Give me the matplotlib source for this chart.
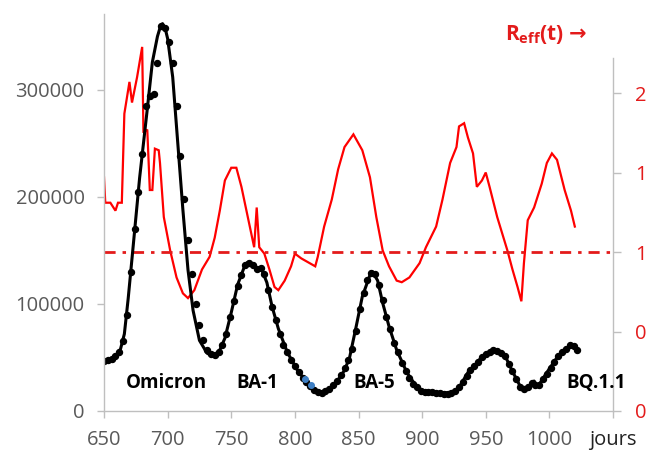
import matplotlib
matplotlib.use('Agg')
import matplotlib.pyplot as plt

plt.rcParams['font.family'] = ['Open Sans', 'DejaVu Sans']
plt.rcParams['mathtext.fontset'] = 'custom'
plt.rcParams['mathtext.bf'] = 'Open Sans:bold'
plt.rcParams['mathtext.rm'] = 'Open Sans'
plt.rcParams['lines.scale_dashes'] = False

# ---------------- data ----------------
# smoothed daily cases (left axis)
line_days = [650, 655, 660, 663, 666, 669, 673, 678, 684, 688, 692, 694, 696, 698, 700,
             704, 708, 712, 716, 720, 725, 731, 736, 741, 745, 750, 755, 761, 763, 768,
             774, 778, 782, 787, 794, 802, 810, 818, 823, 831, 839, 843, 848, 853, 859,
             861, 865, 869, 874, 880, 888, 896, 903, 916, 924, 929, 937, 941, 945, 949,
             957, 965, 971, 978, 984, 988, 991, 998, 1006, 1017, 1022]
line_cases = [47000, 49000, 52000, 58000, 72000, 105000, 155000, 218000, 282000, 326000,
              350000, 358000, 362000, 358000, 348000, 312000, 250000, 188000, 132000, 94000,
              66000, 54000, 51000, 57000, 68000, 92000, 118000, 137000, 139000, 135000,
              132000, 120000, 98000, 77000, 55000, 38000, 26000, 18000, 18000, 24000,
              38000, 50000, 78000, 107000, 127000, 130000, 122000, 101000, 79000, 57000,
              36000, 22000, 18000, 17000, 17000, 22000, 38000, 42000, 48000, 52000,
              57000, 52000, 37000, 21000, 22000, 28000, 23000, 36000, 50000, 62000, 57000]

# daily case counts (dots)
dot_days = list(range(650, 1023, 3))
dot_cases = [47000, 48000, 49000, 51000, 55000, 65000, 90000, 130000, 170000, 205000,
             240000, 285000, 294000, 296000, 325000, 360000, 358000, 345000, 325000, 285000,
             238000, 198000, 160000, 128000, 100000, 80000, 66000, 57000, 53000, 52000,
             55000, 62000, 72000, 88000, 103000, 117000, 127000, 136000, 138000, 136000,
             133000, 134000, 128000, 113000, 97000, 85000, 72000, 62000, 55000, 48000,
             42000, 36000, 31000, 27000, 23000, 20000, 18000, 17000, 19000, 21000,
             24000, 28000, 34000, 40000, 48000, 58000, 75000, 95000, 110000, 122000,
             129000, 128000, 118000, 104000, 88000, 77000, 64000, 55000, 45000, 37000,
             31000, 25000, 22000, 19000, 18000, 18000, 18000, 17000, 17000, 16000,
             16000, 17000, 19000, 22000, 27000, 33000, 38000, 42000, 46000, 50000,
             53000, 55000, 57000, 56000, 54000, 51000, 44000, 37000, 30000, 22000,
             21000, 22000, 26000, 24000, 24000, 30000, 35000, 40000, 46000, 51000,
             55000, 58000, 62000, 61000, 57000]
blue_days = [808, 813]
blue_cases = [30000, 24000]

# effective reproduction number (right axis)
reff_days = [650, 651, 655, 659, 661, 664, 666, 668, 670, 672, 676, 680, 681, 684, 686,
             688, 690, 693, 694, 697, 702, 707, 712, 716, 721, 727, 733, 737, 741, 745,
             750, 754, 758, 763, 768, 770, 772, 776, 780, 784, 787, 792, 797, 800, 805,
             816, 818, 823, 829, 834, 839, 846, 853, 859, 864, 869, 874, 880, 884, 890,
             898, 903, 911, 916, 922, 927, 929, 933, 936, 940, 943, 947, 950, 953, 959,
             967, 971, 975, 978, 980, 983, 988, 994, 998, 1002, 1006, 1012, 1017, 1020]
reff = [1.47, 1.31, 1.31, 1.26, 1.31, 1.31, 1.87, 1.97, 2.07, 1.94, 2.10, 2.29, 1.75, 1.77, 1.39,
        1.39, 1.65, 1.64, 1.56, 1.22, 1.01, 0.84, 0.74, 0.71, 0.76, 0.89, 0.97, 1.09, 1.26, 1.45,
        1.53, 1.53, 1.41, 1.22, 1.03, 1.28, 1.03, 0.99, 0.89, 0.78, 0.76, 0.82, 0.91, 0.99, 0.96,
        0.91, 0.97, 1.16, 1.33, 1.52, 1.66, 1.74, 1.64, 1.47, 1.22, 1.01, 0.91, 0.82, 0.81, 0.84,
        0.93, 1.03, 1.16, 1.33, 1.56, 1.66, 1.79, 1.81, 1.72, 1.62, 1.41, 1.45, 1.50, 1.41, 1.22,
        1.01, 0.89, 0.78, 0.69, 0.93, 1.20, 1.28, 1.43, 1.56, 1.62, 1.58, 1.39, 1.26, 1.16]
reff_threshold = 1.0

x_ticks = [650, 700, 750, 800, 850, 900, 950, 1000, 1050]
x_tick_labels = ['650', '700', '750', '800', '850', '900', '950', '1000', 'jours']
left_ticks = [0, 100000, 200000, 300000]
left_tick_labels = ['0', '100000', '200000', '300000']
right_ticks = [0, 0.5, 1.0, 1.5, 2.0]
right_tick_labels = ['0', '0', '1', '1', '2']

variant_names = ['Omicron', 'BA-1', 'BA-5', 'BQ.1.1']
variant_x = [699, 770.5, 862.7, 1037]
variant_y = [21500, 21500, 21500, 21500]

# ---------------- figure ----------------
W, H = 647, 450
fig = plt.figure(figsize=(W / 100, H / 100), dpi=100)
ax = fig.add_axes([104 / W, 1 - 411 / H, (613 - 104) / W, (411 - 14) / H])
ax2 = ax.twinx()
ax.set_zorder(ax2.get_zorder() + 1)
ax.patch.set_visible(False)

RED = '#ff0000'
LABEL_RED = '#e31b1b'
GRAY = '#bfbfbf'

ax2.plot(reff_days, reff, color=RED, lw=1.6, solid_joinstyle='miter')
ax2.axhline(reff_threshold, color=LABEL_RED, lw=2.0, linestyle=(0, (8, 5, 2.5, 5)))

ax.plot(dot_days, dot_cases, 'o', color='black', ms=4.3, mec='black')
ax.plot(line_days, line_cases, color='black', lw=2.2)
ax.plot(blue_days, blue_cases, 'o', color='#3d7fc4', ms=4.0)

for name, vx, vy in zip(variant_names, variant_x, variant_y):
    ax.text(vx, vy, name, ha='center', va='baseline', fontsize=13.5,
            fontweight='bold', color='black')

ax.set_xlim(650, 1050)
ax.set_ylim(0, 371000)
ax2.set_ylim(0, 2.497)

ax.set_xticks(x_ticks)
ax.set_xticklabels(x_tick_labels)
ax.set_yticks(left_ticks)
ax.set_yticklabels(left_tick_labels)
ax2.set_yticks(right_ticks)
ax2.set_yticklabels(right_tick_labels)

for a in (ax, ax2):
    for s in a.spines.values():
        s.set_visible(False)
ax.spines['left'].set_visible(True)
ax.spines['bottom'].set_visible(True)
ax2.spines['right'].set_visible(True)
for s in (ax.spines['left'], ax.spines['bottom'], ax2.spines['right']):
    s.set_color(GRAY)
    s.set_linewidth(1.0)
ax2.spines['right'].set_bounds(0, 2.22)

ax.tick_params(axis='x', direction='out', length=5, width=1, color=GRAY,
               labelsize=14.5, labelcolor='#595959', pad=9)
ax.tick_params(axis='y', direction='out', length=5, width=1, color=GRAY,
               labelsize=14.5, labelcolor='#595959', pad=9)
ax2.tick_params(axis='y', direction='out', length=6, width=1, color=GRAY,
                labelsize=14.5, labelcolor=LABEL_RED, pad=10)
ax.get_xticklabels()[-1].set_color('#222222')

t1 = fig.text(505 / W, 1 - 40 / H, r'$\mathbf{R_{eff}(t)}$', color=LABEL_RED,
              fontsize=15, ha='left', va='baseline')
fig.canvas.draw()
bb = t1.get_window_extent()
fig.text((bb.x1 + 5) / W, 1 - 40 / H, '→', color=LABEL_RED, fontsize=15,
         fontweight='bold', family='DejaVu Sans', ha='left', va='baseline')

fig.savefig('out.png', dpi=100)
